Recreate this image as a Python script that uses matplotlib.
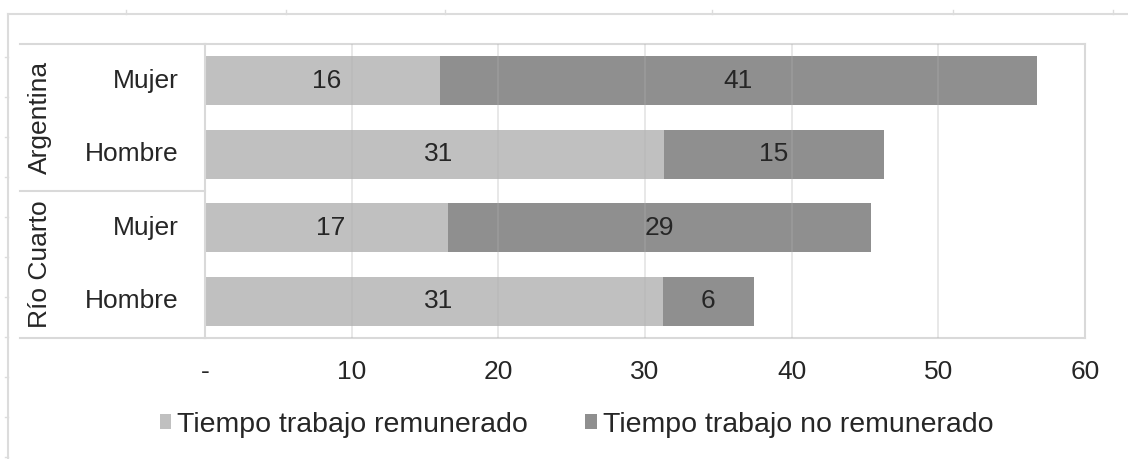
import numpy as np
import matplotlib.pyplot as plt
from matplotlib.lines import Line2D

plt.rcParams['font.family'] = ['Liberation Sans', 'DejaVu Sans']

#---------------------- DATA
groups    = ["Argentina", "Río Cuarto"]
sexes     = ["Mujer", "Hombre", "Mujer", "Hombre"]
remun     = [16.0, 31.3, 16.6, 31.2]
no_remun  = [40.7, 15.0, 28.8, 6.2]
series    = ["Tiempo trabajo remunerado", "Tiempo trabajo no remunerado"]
xticks    = [0, 10, 20, 30, 40, 50, 60]
xlabels   = ["-", "10", "20", "30", "40", "50", "60"]

colors    = ['#c0c0c0', '#8f8f8f']
txt       = '#262626'
gridc     = '#d9d9d9'
fs        = 19

W, H = 1128, 459
fig = plt.figure(figsize=(W/100., H/100.), dpi=100)
fig.patch.set_facecolor('white')

#---- sheet frame (cell border look)
fig.add_artist(Line2D([8/W, 1], [1-14/H, 1-14/H], color='#dcdcdc', lw=1.5))
fig.add_artist(Line2D([8/W, 8/W], [0, 1-14/H], color='#dcdcdc', lw=1.5))
for xp in [126, 286, 445, 712, 953, 1113]:
    fig.add_artist(Line2D([xp/W, xp/W], [1-14/H, 1-10/H], color='#dcdcdc', lw=1))
for yp in range(57, 459, 40):
    fig.add_artist(Line2D([5/W, 8/W], [1-yp/H, 1-yp/H], color='#dcdcdc', lw=1))

#---- plot area
x0, x1, y0, y1 = 205, 1085, 44, 338
ax = fig.add_axes([x0/W, 1-y1/H, (x1-x0)/W, (y1-y0)/H])
ax.set_xlim(0, 60)
ax.set_ylim(3.5, -0.5)

ypos = np.arange(len(sexes))
bh = 0.665
b1 = ax.barh(ypos, remun, height=bh, color=colors[0], zorder=2, label=series[0])
b2 = ax.barh(ypos, no_remun, left=remun, height=bh, color=colors[1], zorder=2, label=series[1])

for i in range(len(sexes)):
    ax.text(remun[i]/2. + 0.3, ypos[i], "%.0f" % remun[i], ha='center', va='center',
            fontsize=fs, color=txt, zorder=4)
    ax.text(remun[i] + no_remun[i]/2., ypos[i], "%.0f" % no_remun[i], ha='center',
            va='center', fontsize=fs, color=txt, zorder=4)

# gridlines show faintly over the bars
for g in xticks[1:-1]:
    ax.axvline(g, color='#b0b0b0', lw=1.2, alpha=0.35, zorder=3)

for s in ['top', 'right', 'left', 'bottom']:
    ax.spines[s].set_color(gridc); ax.spines[s].set_linewidth(1.5)

ax.set_xticks(xticks)
ax.set_xticklabels(xlabels, fontsize=fs, color=txt)
ax.tick_params(axis='x', length=0, pad=16)
ax.set_yticks([])

#---- category labels (two-level axis)
for i, s in enumerate(sexes):
    ax.text(-1.8, ypos[i], s, ha='right', va='center', fontsize=fs, color=txt)
for k, gname in enumerate(groups):
    ax.text(-11.25, 2*k + 0.5, gname, ha='center', va='center', rotation=90,
            fontsize=fs, color=txt)

trans = ax.get_yaxis_transform()
for yl in [-0.5, 1.5, 3.5]:
    ax.add_line(Line2D([(20-x0)/(x1-x0), 0], [yl, yl], color=gridc, lw=1.5,
                       transform=trans, clip_on=False))

#---- legend
leg = fig.legend(handles=[b1, b2], labels=series, loc='center',
                 bbox_to_anchor=(0.511, 1-425/H), ncol=2, frameon=False,
                 fontsize=20.5, handlelength=0.42, handleheight=0.42,
                 handletextpad=0.2, columnspacing=2.0)
for t in leg.get_texts():
    t.set_color(txt)

plt.savefig('out.png', dpi=100)
